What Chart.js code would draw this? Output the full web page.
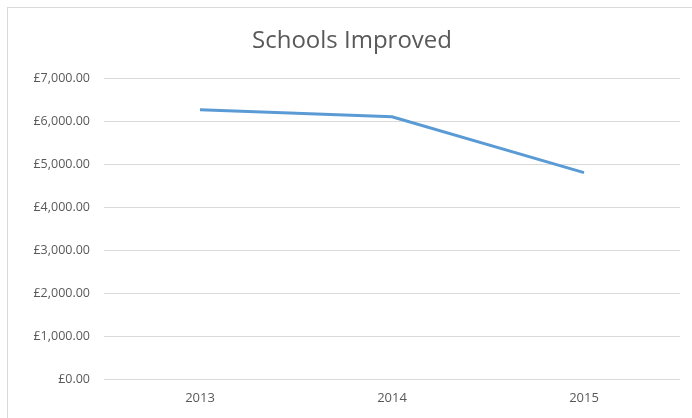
<!DOCTYPE html>
<html>
<head>
<meta charset="utf-8">
<script src="https://cdn.jsdelivr.net/npm/chart.js@4.4.1/dist/chart.umd.min.js"></script>
<style>
  html, body { margin: 0; padding: 0; background: #fff; overflow: hidden; }
  #frame {
    position: absolute; left: 7px; top: 7px;
    width: 700px; height: 420px;
    border: 1px solid #d9d9d9; box-sizing: border-box;
  }
  #wrap { position: absolute; left: 0; top: 0; width: 692px; height: 418px; }
</style>
</head>
<body>
<div id="frame"></div>
<div id="wrap"><canvas id="myChart"></canvas></div>
<script>
var chartTitle = "Schools Improved";
var years = ["2013", "2014", "2015"];
var spend = [6260, 6100, 4800];
var yTicks = [0, 1000, 2000, 3000, 4000, 5000, 6000, 7000];

var textGrey = "#595959";
var fontName = "Open Sans";

function pounds(v) {
  return "£" + Number(v).toLocaleString("en-GB", { minimumFractionDigits: 2, maximumFractionDigits: 2 });
}

// title sits a little right of the canvas centre, so draw it by hand
var titleText = {
  id: "titleText",
  afterDraw: function(chart) {
    var ctx = chart.ctx;
    ctx.save();
    ctx.font = "24px '" + fontName + "'";
    ctx.fillStyle = textGrey;
    ctx.textAlign = "center";
    ctx.textBaseline = "alphabetic";
    ctx.fillText(chartTitle, 352, 48);
    ctx.restore();
  }
};

var myChart = new Chart("myChart", {
  type: "line",
  data: {
    labels: years,
    datasets: [{
      label: chartTitle,
      data: spend,
      borderColor: "#5b9bd5",
      backgroundColor: "rgba(91,155,213,0)",
      borderWidth: 3,
      pointRadius: 0,
      tension: 0
    }]
  },
  plugins: [titleText],
  options: {
    responsive: true,
    maintainAspectRatio: false,
    animation: false,
    layout: { padding: { left: 0, right: 12, top: 78, bottom: 0 } },
    plugins: {
      legend: { display: false },
      tooltip: { enabled: false },
      title: { display: false }
    },
    scales: {
      x: {
        offset: true,
        grid: { display: false, drawTicks: false },
        border: { display: false },
        ticks: {
          color: textGrey,
          font: { family: fontName, size: 13 },
          padding: 11,
          maxRotation: 0
        },
        afterFit: function(scale) { scale.height = 39; }
      },
      y: {
        min: 0,
        max: 7000,
        afterBuildTicks: function(scale) {
          scale.ticks = yTicks.map(function(v) { return { value: v }; });
        },
        grid: { color: "#d9d9d9", lineWidth: 1, drawTicks: false },
        border: { display: false },
        ticks: {
          color: textGrey,
          font: { family: fontName, size: 12.5 },
          padding: 14,
          callback: function(v) { return pounds(v); }
        },
        afterFit: function(scale) { scale.width = 104; }
      }
    }
  }
});
</script>
</body>
</html>
